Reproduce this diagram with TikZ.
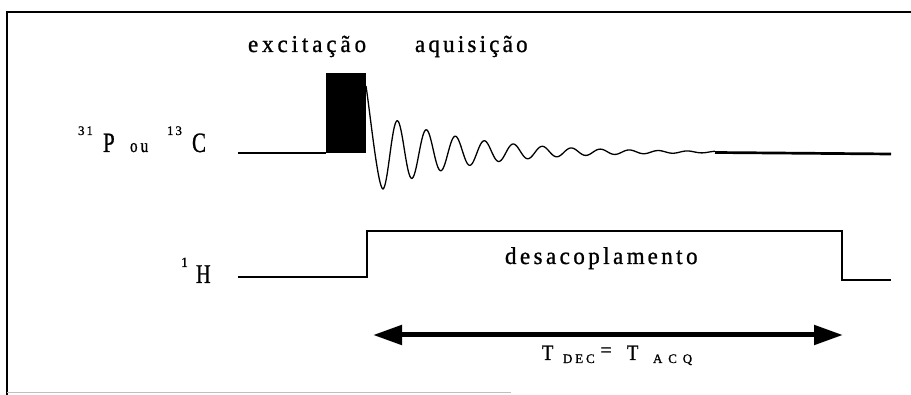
\documentclass[tikz,border=0pt]{standalone}
\usepackage{fontspec}
\usepackage{graphicx}
\setmainfont{Liberation Serif}[FakeBold=1]
\usetikzlibrary{arrows.meta}
\tikzset{
  lbl/.style={inner sep=0pt, outer sep=0pt, anchor=base west},
  chan/.style={line width=2.7pt, line join=miter},
  fidline/.style={line width=1.3pt},
  framel/.style={line width=2pt},
  durarrow/.style={line width=5pt, {Triangle[length=29pt,width=19pt]}-{Triangle[length=29pt,width=19pt]}},
}
\begin{document}
\begin{tikzpicture}[x=1pt,y=-1pt]
\path[use as bounding box] (0,0) rectangle (911,395);
% frame
\coordinate (fr1) at (911,12);
\coordinate (fr2) at (7,12);
\coordinate (fr3) at (7,395);
\coordinate (fb1) at (7,393);
\coordinate (fb2) at (511,393);
\draw[framel] (fr1) -- (fr2) -- (fr3);
\draw[gray!50, line width=1pt] (fb1) -- (fb2);
% titles
\node[lbl] (exc) at (248,52) {\scalebox{1}[1.05]{\fontsize{23}{23}\selectfont\addfontfeatures{LetterSpace=17}excitação}};
\node[lbl] (acq) at (415,52) {\scalebox{1}[1.05]{\fontsize{23}{23}\selectfont\addfontfeatures{LetterSpace=14}aquisição}};
% P/C channel label
\node[lbl] (s31) at (78,135) {\fontsize{13}{13}\selectfont\addfontfeatures{LetterSpace=15}31};
\node[lbl] (lp) at (103,152) {\scalebox{0.75}[1]{\fontsize{28}{28}\selectfont P}};
\node[lbl] (lou) at (130,152) {\scalebox{0.8}[1]{\fontsize{19}{19}\selectfont\addfontfeatures{LetterSpace=20}ou}};
\node[lbl] (s13) at (167,135) {\fontsize{13}{13}\selectfont\addfontfeatures{LetterSpace=15}13};
\node[lbl] (lc) at (192,152) {\scalebox{0.75}[1]{\fontsize{28}{28}\selectfont C}};
% H channel label
\node[lbl] (s1) at (181,267) {\fontsize{14}{14}\selectfont 1};
\node[lbl] (lh) at (196,283) {\scalebox{0.75}[1]{\fontsize{27}{27}\selectfont H}};
% pulse
\node[fill=black, inner sep=0pt, outer sep=0pt, minimum width=40pt, minimum height=80pt, anchor=south west] (pulse) at (326,153) {};
% P channel
\coordinate (p0) at (238,153);
\draw[chan] (p0) -- (pulse.south west);
% FID
\coordinate (f0) at (366,86);
\coordinate (fmin) at (383,189);
\coordinate (fend) at (891,154);
\draw[fidline] (f0) .. controls (370,112) and (378,189) .. (fmin)
  -- plot[domain=383:715, samples=500] (\x, {152+37*exp(-(\x-383)/85)*cos(12.41379*(\x-383))});
\coordinate (fp) at (715,152.5);
\draw[chan] (fp) -- (fend);
% H channel
\coordinate (h0) at (238,277);
\coordinate (h1) at (367,277);
\coordinate (h2) at (367,231);
\coordinate (h3) at (842,231);
\coordinate (h4) at (842,280);
\coordinate (h5) at (891,280);
\draw[chan] (h0) -- (h1) -- (h2) -- (h3) -- (h4) -- (h5);
\node[lbl] (dec) at (505,264) {\scalebox{1}[1.05]{\fontsize{23}{23}\selectfont\addfontfeatures{LetterSpace=15}desacoplam\kern3pt ento}};
% duration arrow
\coordinate (a0) at (373,335);
\coordinate (a1) at (843,335);
\draw[durarrow] (a0) -- (a1);
\node[lbl] (t1) at (542,360) {\scalebox{0.85}[1]{\fontsize{22}{22}\selectfont T}};
\node[lbl] (dsub) at (563,363) {\fontsize{13}{13}\selectfont\addfontfeatures{LetterSpace=22}DEC};
\node[inner sep=0pt] (eq) at (606,352) {\fontsize{20}{20}\selectfont =};
\node[lbl] (t2) at (627,360) {\scalebox{0.85}[1]{\fontsize{22}{22}\selectfont T}};
\node[lbl] (asub) at (653,363) {\fontsize{13}{13}\selectfont\addfontfeatures{LetterSpace=45}ACQ};
\end{tikzpicture}
\end{document}
